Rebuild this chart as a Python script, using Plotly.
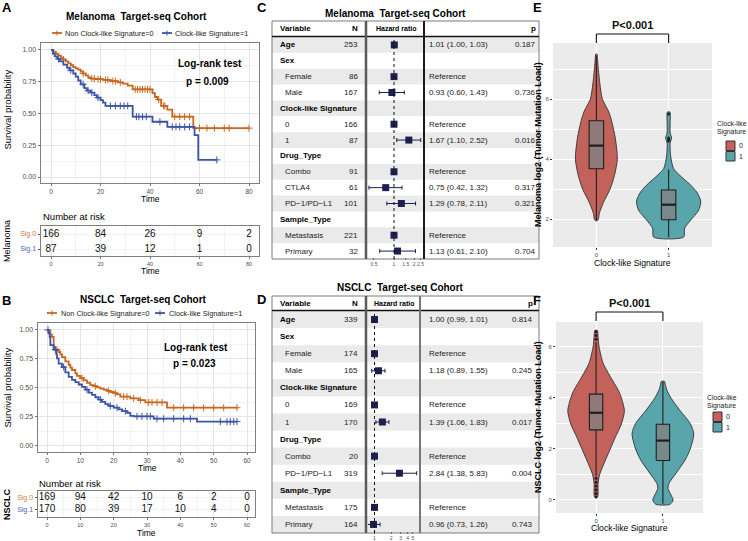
import plotly.graph_objects as go

W, H = 748, 541


def X(p):
    return p / W


def Y(p):
    return 1 - p / H


FONT = "Liberation Sans, Arial, Helvetica, sans-serif"
ORANGE = "#C8661F"
BLUE = "#3A55A5"
ORANGE_LBL = "#CB8040"
BLUE_LBL = "#4D67B3"
NAVY = "#1D1F4E"
RED_V = "#C3625B"
TEAL_V = "#58A5AC"
GRID = "#E6E6E6"
GRID_MINOR = "#F3F3F3"
FRAME = "#7F7F7F"
TICKC = "#4D4D4D"

# ======================= DATA =======================
# --- A: Melanoma Kaplan-Meier ---
mel_sig0_time = [0, 1, 2, 3, 4, 5, 6, 7, 8, 9, 10, 11, 12, 13, 14, 15, 16, 18, 21, 24, 27, 29, 31,
                 33, 41, 42, 43, 44.5, 47, 49, 57.5]
mel_sig0_surv = [1.0, 0.985, 0.97, 0.955, 0.94, 0.925, 0.91, 0.895, 0.88, 0.865, 0.855, 0.845, 0.83,
                 0.815, 0.80, 0.785, 0.775, 0.77, 0.765, 0.755, 0.745, 0.735, 0.72, 0.69, 0.66, 0.63,
                 0.61, 0.56, 0.53, 0.475, 0.385]
mel_sig0_end = 80
mel_sig0_censor = [5, 13, 16.5, 17.5, 19, 20, 22, 23, 25, 26, 28, 34, 35, 36, 37, 38, 39, 40, 43.5,
                   45.5, 46, 50, 52, 54, 56, 60, 63, 66, 70, 72, 80]
mel_sig1_time = [0, 0.8, 1.5, 2.5, 3.5, 5, 6.5, 7.5, 9, 10, 11, 12, 13.5, 14.5, 16, 17.5, 18.5, 20,
                 21, 22, 33, 41, 47, 58, 59.5]
mel_sig1_surv = [1.0, 0.97, 0.95, 0.93, 0.91, 0.885, 0.86, 0.84, 0.815, 0.79, 0.76, 0.73, 0.70, 0.68,
                 0.665, 0.645, 0.625, 0.605, 0.585, 0.56, 0.475, 0.435, 0.395, 0.33, 0.135]
mel_sig1_end = 67
mel_sig1_censor = [3, 8, 13, 15, 16.5, 19, 24, 26, 28, 29.5, 31, 34.5, 35.5, 37, 38.5, 44, 49,
                   50.5, 52, 54, 56, 67]
mel_risk_times = [0, 20, 40, 60, 80]
mel_risk_sig0 = [166, 84, 26, 9, 2]
mel_risk_sig1 = [87, 39, 12, 1, 0]
mel_logrank_p = "0.009"

# --- B: NSCLC Kaplan-Meier ---
nsclc_sig0_time = [0, 0.5, 1.0, 1.5, 2.0, 2.5, 3.5, 4.0, 4.5, 5.5, 6.5, 7.0, 7.5, 8.5, 9.0, 10, 11,
                   12, 13, 14, 15, 16, 17, 18, 19, 20, 21, 22, 25, 27.5, 29.5, 36]
nsclc_sig0_surv = [1.0, 0.985, 0.96, 0.94, 0.85, 0.83, 0.81, 0.79, 0.765, 0.73, 0.70, 0.675, 0.655,
                   0.625, 0.605, 0.585, 0.565, 0.545, 0.525, 0.515, 0.505, 0.495, 0.485, 0.475,
                   0.465, 0.455, 0.445, 0.425, 0.41, 0.395, 0.375, 0.33]
nsclc_sig0_end = 57
nsclc_sig0_censor = [3, 10.5, 14.5, 18.5, 20.5, 23, 24, 26, 28, 30.5, 31.5, 33, 34.5, 38, 41, 44,
                     47, 50, 53, 57]
nsclc_sig1_time = [0, 0.5, 0.8, 1.0, 2.0, 2.8, 3.0, 3.5, 4.5, 5.5, 6.5, 7.5, 8.5, 9.5, 10.5, 11.5,
                   12.5, 13.5, 14.5, 15.5, 16.5, 17.5, 18.5, 20, 21.5, 22.5, 24, 25, 26, 32, 45]
nsclc_sig1_surv = [1.0, 0.97, 0.94, 0.87, 0.83, 0.79, 0.755, 0.71, 0.68, 0.635, 0.595, 0.57, 0.55,
                   0.53, 0.51, 0.485, 0.46, 0.44, 0.42, 0.40, 0.38, 0.36, 0.345, 0.33, 0.315, 0.30,
                   0.285, 0.26, 0.255, 0.235, 0.21]
nsclc_sig1_end = 57
nsclc_sig1_censor = [0.3, 2.5, 5, 12, 16, 19, 21, 23.5, 27, 28.5, 30, 31, 33, 35, 38, 41, 43, 52,
                     54, 55, 56, 57]
nsclc_risk_times = [0, 10, 20, 30, 40, 50, 60]
nsclc_risk_sig0 = [169, 94, 42, 10, 6, 2, 0]
nsclc_risk_sig1 = [170, 80, 39, 17, 10, 4, 0]
nsclc_logrank_p = "0.023"

# --- C: Melanoma forest plot ---
c_vars = ["Age", "Sex", "Female", "Male", "Clock-like Signature", "0", "1", "Drug_Type", "Combo",
          "CTLA4", "PD\u22121/PD\u2212L1", "Sample_Type", "Metastasis", "Primary"]
c_level = [0, 0, 1, 1, 0, 1, 1, 0, 1, 1, 1, 0, 1, 1]
c_n = [253, None, 86, 167, None, 166, 87, None, 91, 61, 101, None, 221, 32]
c_hr = [1.01, None, 1, 0.93, None, 1, 1.67, None, 1, 0.75, 1.29, None, 1, 1.13]
c_lo = [1.00, None, None, 0.60, None, None, 1.10, None, None, 0.42, 0.78, None, None, 0.61]
c_hi = [1.03, None, None, 1.43, None, None, 2.52, None, None, 1.32, 2.11, None, None, 2.10]
c_p = [0.187, None, None, 0.736, None, None, 0.016, None, None, 0.317, 0.321, None, None, 0.704]
c_ticks = [0.5, 1, 1.5, 2, 2.5]

# --- D: NSCLC forest plot ---
d_vars = ["Age", "Sex", "Female", "Male", "Clock-like Signature", "0", "1", "Drug_Type", "Combo",
          "PD\u22121/PD\u2212L1", "Sample_Type", "Metastasis", "Primary"]
d_level = [0, 0, 1, 1, 0, 1, 1, 0, 1, 1, 0, 1, 1]
d_n = [339, None, 174, 165, None, 169, 170, None, 20, 319, None, 175, 164]
d_hr = [1.00, None, 1, 1.18, None, 1, 1.39, None, 1, 2.84, None, 1, 0.96]
d_lo = [0.99, None, None, 0.89, None, None, 1.06, None, None, 1.38, None, None, 0.73]
d_hi = [1.01, None, None, 1.55, None, None, 1.83, None, None, 5.83, None, None, 1.26]
d_p = [0.814, None, None, 0.245, None, None, 0.017, None, None, 0.004, None, None, 0.743]
d_ticks = [1, 2, 3, 4, 5]

# --- E: Melanoma violin (density half-widths in category units) ---
e0_y = [1.95, 2.0, 2.2, 2.55, 3.0, 3.45, 4.0, 4.67, 5.3, 5.6, 6.0, 6.5, 7.08, 7.3, 7.5]
e0_w = [0.014, 0.028, 0.042, 0.097, 0.19, 0.25, 0.29, 0.264, 0.208, 0.167, 0.083, 0.049, 0.024,
        0.017, 0.007]
e1_y = [1.4, 1.7, 1.97, 2.3, 2.6, 2.9, 3.13, 3.4, 3.68, 4.1, 4.53, 4.7, 4.87, 5.2, 5.57]
e1_w = [0.208, 0.222, 0.306, 0.417, 0.444, 0.389, 0.306, 0.181, 0.069, 0.028, 0.021, 0.042, 0.021,
        0.021, 0.017]
e_q1 = [3.68, 1.98]
e_med = [4.45, 2.48]
e_q3 = [5.28, 2.97]
e_lo = [1.95, 1.4]
e_hi = [7.45, 3.65]
e_out = [[], [4.6, 4.65, 4.7, 5.5]]

# --- F: NSCLC violin ---
f0_y = [0.13, 0.65, 1.0, 1.45, 2.0, 2.46, 2.98, 3.5, 4.0, 4.3, 4.84, 5.36, 6.0, 6.4, 6.65]
f0_w = [0.023, 0.03, 0.053, 0.121, 0.212, 0.288, 0.379, 0.424, 0.379, 0.333, 0.212, 0.106, 0.045,
        0.03, 0.018]
f1_y = [-0.17, 0.0, 0.2, 0.46, 0.65, 1.05, 1.57, 2.0, 2.6, 3.0, 3.5, 4.0, 4.3, 4.5, 4.65]
f1_w = [0.106, 0.152, 0.121, 0.076, 0.091, 0.197, 0.333, 0.409, 0.462, 0.409, 0.258, 0.121, 0.061,
        0.038, 0.023]
f_q1 = [2.75, 1.55]
f_med = [3.42, 2.33]
f_q3 = [4.15, 2.97]
f_lo = [0.95, -0.15]
f_hi = [6.2, 4.65]
f_out = [[0.12, 0.25, 0.4, 0.55, 0.7, 0.85, 6.3, 6.45, 6.6], []]

categories = ["0", "1"]
sig_p_text = "P<0.001"

# ======================= FIGURE =======================
fig = go.Figure()
ann, shapes = [], []


def txt(x, y, s, size=8, bold=False, color="#000000", xa="center", ya="middle", angle=0):
    ann.append(dict(x=X(x), y=Y(y), xref="paper", yref="paper",
                    text=("<b>%s</b>" % s) if bold else s, showarrow=False,
                    font=dict(family=FONT, size=size, color=color),
                    xanchor=xa, yanchor=ya, textangle=angle, borderpad=0))


def pline(x0, y0, x1, y1, color="#000000", width=1, dash=None, layer="above"):
    ln = dict(color=color, width=width)
    if dash:
        ln["dash"] = dash
    shapes.append(dict(type="line", xref="paper", yref="paper", x0=X(x0), y0=Y(y0),
                       x1=X(x1), y1=Y(y1), line=ln, layer=layer))


def prect(x0, y0, x1, y1, fill="rgba(0,0,0,0)", color="rgba(0,0,0,0)", width=0, layer="below"):
    shapes.append(dict(type="rect", xref="paper", yref="paper", x0=X(x0), y0=Y(y1), x1=X(x1),
                       y1=Y(y0), fillcolor=fill, line=dict(color=color, width=width), layer=layer))


def surv_at(times, surv, t):
    s = surv[0]
    for ti, si in zip(times, surv):
        if ti <= t:
            s = si
    return s


# ---------- KM panels ----------
km_panels = [
    dict(xa="x", ya="y", rxa="x2", rya="y2",
         curves=[(mel_sig0_time, mel_sig0_surv, mel_sig0_end, mel_sig0_censor, ORANGE),
                 (mel_sig1_time, mel_sig1_surv, mel_sig1_end, mel_sig1_censor, BLUE)],
         risk_t=mel_risk_times, risk=[mel_risk_sig0, mel_risk_sig1]),
    dict(xa="x3", ya="y3", rxa="x4", rya="y4",
         curves=[(nsclc_sig0_time, nsclc_sig0_surv, nsclc_sig0_end, nsclc_sig0_censor, ORANGE),
                 (nsclc_sig1_time, nsclc_sig1_surv, nsclc_sig1_end, nsclc_sig1_censor, BLUE)],
         risk_t=nsclc_risk_times, risk=[nsclc_risk_sig0, nsclc_risk_sig1]),
]
for k in km_panels:
    for t, s, end, cens, col in k["curves"]:
        fig.add_trace(go.Scatter(x=t + [end], y=s + [s[-1]], mode="lines",
                                 line=dict(color=col, width=1.8, shape="hv"),
                                 xaxis=k["xa"], yaxis=k["ya"], showlegend=False, hoverinfo="skip"))
        fig.add_trace(go.Scatter(x=cens, y=[surv_at(t, s, c) for c in cens], mode="markers",
                                 marker=dict(symbol="cross-thin", size=5, color=col,
                                             line=dict(width=1, color=col)),
                                 xaxis=k["xa"], yaxis=k["ya"], showlegend=False, hoverinfo="skip"))
    for row, vals in zip([1, 0], k["risk"]):
        fig.add_trace(go.Scatter(x=k["risk_t"], y=[row] * len(vals), mode="text",
                                 text=[str(v) for v in vals],
                                 textfont=dict(family=FONT, size=10, color="#111111"),
                                 xaxis=k["rxa"], yaxis=k["rya"], showlegend=False, hoverinfo="skip"))


def km_xaxis(dom, rng, dtick, anchor, fsize):
    return dict(domain=dom, range=rng, anchor=anchor, tick0=0, dtick=dtick, tickangle=0,
                showgrid=True, gridcolor=GRID, gridwidth=0.8,
                minor=dict(dtick=dtick / 2, showgrid=True, gridcolor=GRID_MINOR, gridwidth=0.5),
                zeroline=False, showline=True, mirror=True, linecolor=FRAME, linewidth=1,
                ticks="outside", ticklen=2, tickcolor="#777777", tickwidth=0.8,
                tickfont=dict(family=FONT, size=fsize, color=TICKC))


def km_yaxis(dom, rng, anchor):
    return dict(domain=dom, range=rng, anchor=anchor, tick0=0, dtick=0.25, tickformat=".2f",
                showgrid=True, gridcolor=GRID, gridwidth=0.8,
                minor=dict(dtick=0.125, showgrid=True, gridcolor=GRID_MINOR, gridwidth=0.5),
                zeroline=False, showline=True, mirror=True, linecolor=FRAME, linewidth=1,
                ticks="outside", ticklen=2.5, tickcolor="#777777", tickwidth=0.8,
                tickfont=dict(family=FONT, size=7, color=TICKC))


def risk_yaxis(dom, rng, anchor):
    return dict(domain=dom, range=rng, anchor=anchor, tickmode="array", tickvals=[0, 1],
                ticktext=["<span style='color:%s'>Sig.1</span>" % BLUE_LBL,
                          "<span style='color:%s'>Sig.0</span>" % ORANGE_LBL],
                showgrid=True, gridcolor=GRID_MINOR, gridwidth=0.8, zeroline=False,
                showline=True, mirror=True, linecolor=FRAME, linewidth=1,
                ticks="outside", ticklen=2.5, tickcolor="#555555", tickwidth=0.8,
                tickfont=dict(family=FONT, size=7))


layout_axes = {}
layout_axes["xaxis"] = km_xaxis([X(41), X(259)], [-4.04, 84.04], 20, "y", 6.5)
layout_axes["yaxis"] = km_yaxis([Y(183), Y(43)], [-0.047, 1.055], "x")
layout_axes["xaxis2"] = km_xaxis([X(41), X(259)], [-4.04, 84.04], 20, "y2", 5.5)
layout_axes["yaxis2"] = risk_yaxis([Y(256), Y(226)], [-0.467, 1.533], "x2")
layout_axes["xaxis3"] = km_xaxis([X(38), X(255)], [-2.7, 62.4], 10, "y3", 6.5)
layout_axes["yaxis3"] = km_yaxis([Y(452), Y(323)], [-0.052, 1.06], "x3")
layout_axes["xaxis4"] = km_xaxis([X(38), X(255)], [-2.7, 62.4], 10, "y4", 5.5)
layout_axes["yaxis4"] = risk_yaxis([Y(517), Y(491)], [-0.57, 1.545], "x4")

# KM text
txt(7, 8, "A", 13, True)
txt(6, 300, "B", 13, True)
txt(136.5, 16, "Melanoma  Target-seq Cohort", 10, True)
txt(143.5, 299, "NSCLC  Target-seq Cohort", 10, True)
for (lx, ly, tx, col, label) in [(52, 33, 64, ORANGE, "Non Clock-like Signature=0"),
                                 (162, 33, 174, BLUE, "Clock-like Signature=1"),
                                 (47, 313, 60, ORANGE, "Non Clock-like Signature=0"),
                                 (155, 313, 168, BLUE, "Clock-like Signature=1")]:
    pline(lx, ly, lx + 10, ly, col, 1.8)
    pline(lx + 5, ly - 2.5, lx + 5, ly + 2.5, col, 1)
    txt(tx, ly, label, 7.3, False, "#222222", xa="left")
txt(177, 63, "Log-rank test", 10, True, xa="left")
txt(185, 81, "p = " + mel_logrank_p, 10, True, xa="left")
txt(163, 347, "Log-rank test", 10, True, xa="left")
txt(172, 363, "p = " + nsclc_logrank_p, 10, True, xa="left")
txt(6.5, 110, "Survival probability", 9.5, angle=-90)
txt(6.5, 388, "Survival probability", 9.5, angle=-90)
txt(150, 199, "Time", 8.5)
txt(147, 468, "Time", 8.5)
txt(42, 217, "Number at risk", 9.5, xa="left")
txt(38, 483, "Number at risk", 9.5, xa="left")
txt(150, 271, "Time", 8.5)
txt(146, 533, "Time", 8.5)
txt(7, 241, "Melanoma", 9, angle=-90)
txt(7, 504, "NSCLC", 9, True, angle=-90)

# ---------- Forest plots ----------
forests = [
    dict(xa="x5", ya="y5", vars=c_vars, level=c_level, n=c_n, hr=c_hr, lo=c_lo, hi=c_hi, p=c_p,
         ticks=c_ticks, box=(272, 21, 539, 259), head_y=28.5, head_line=36.5, body=(37, 259),
         hr_col=(368, 424), hr_range=[-0.391, 0.451], rcol="#1A1A1A", p_right=537, tick_pos=257,
         title="Melanoma  Target-seq Cohort", title_xy=(395, 14), letter="C", letter_xy=(262, 8)),
    dict(xa="x6", ya="y6", vars=d_vars, level=d_level, n=d_n, hr=d_hr, lo=d_lo, hi=d_hi, p=d_p,
         ticks=d_ticks, box=(272, 296, 539, 533), head_y=303, head_line=310.5, body=(311, 533),
         hr_col=(368, 420), hr_range=[-0.118, 0.827], rcol="#777777", p_right=534, tick_pos=531,
         title="NSCLC  Target-seq Cohort", title_xy=(400, 287), letter="D", letter_xy=(261, 299.5)),
]
for fi, f in enumerate(forests):
    nrow = len(f["vars"])
    bt, bb = f["body"]
    rh = (bb - bt) / nrow
    bx0, by0, bx1, by1 = f["box"]
    for i in range(nrow):
        if i % 2 == 0:
            prect(bx0, bt + i * rh, bx1, bt + (i + 1) * rh, fill="#EAEAEA")
    prect(bx0, by0, bx1, by1, color="#7A7A7A", width=1, layer="above")
    pline(bx0, f["head_line"], bx1, f["head_line"], "#111111", 1.6)
    pline(366, by0, 366, by1, "#5A5A5A", 2.5)
    pline(f["hr_col"][1], by0, f["hr_col"][1], by1, f["rcol"], 2)
    shapes.append(dict(type="line", xref=f["xa"], yref="paper", x0=1, x1=1, y0=Y(bb), y1=Y(f["head_line"] + 1),
                       line=dict(color="#111111", width=1, dash="3px,3px"), layer="above"))
    # header
    txt(279, f["head_y"], "Variable", 8, True, xa="left")
    txt(359, f["head_y"], "N", 8, True, xa="right")
    txt((f["hr_col"][0] + f["hr_col"][1]) / 2, f["head_y"], "Hazard ratio", 7, True)
    txt(f["p_right"], f["head_y"], "p", 8, True, xa="right")
    txt(f["letter_xy"][0], f["letter_xy"][1], f["letter"], 13, True)
    txt(f["title_xy"][0], f["title_xy"][1], f["title"], 10, True)
    xs, ys, ep, em = [], [], [], []
    for i in range(nrow):
        yc = bt + (i + 0.5) * rh
        if f["level"][i] == 0:
            txt(279, yc, f["vars"][i], 8, True, xa="left")
        else:
            txt(284, yc, f["vars"][i], 8, False, "#222222", xa="left")
        if f["n"][i] is not None:
            txt(359, yc, str(f["n"][i]), 8, False, "#222222", xa="right")
        if f["hr"][i] is not None:
            xs.append(f["hr"][i])
            ys.append(i)
            if f["lo"][i] is None:
                txt(428, yc, "Reference", 8, False, "#222222", xa="left")
                ep.append(0)
                em.append(0)
            else:
                txt(428, yc, "%.2f (%.2f, %.2f)" % (f["hr"][i], f["lo"][i], f["hi"][i]), 8, False,
                    "#222222", xa="left")
                txt(f["p_right"], yc, "%.3f" % f["p"][i], 8, False, "#222222", xa="right")
                ep.append(f["hi"][i] - f["hr"][i])
                em.append(f["hr"][i] - f["lo"][i])
    fig.add_trace(go.Scatter(x=xs, y=ys, mode="markers",
                             marker=dict(symbol="square", size=7, color=NAVY),
                             error_x=dict(type="data", symmetric=False, array=ep, arrayminus=em,
                                          color=NAVY, thickness=1, width=2),
                             xaxis=f["xa"], yaxis=f["ya"], showlegend=False, hoverinfo="skip"))
    n = f["xa"][1:]
    layout_axes["xaxis" + n] = dict(type="log", domain=[X(f["hr_col"][0]), X(f["hr_col"][1])],
                                    range=f["hr_range"], anchor="free", position=Y(f["tick_pos"]),
                                    tickmode="array", tickangle=0,
                                    tickvals=f["ticks"], ticktext=[("%g" % v) for v in f["ticks"]],
                                    showgrid=False, zeroline=False, showline=False,
                                    ticks="outside", ticklen=2, tickcolor="#555555", tickwidth=0.8,
                                    tickfont=dict(family=FONT, size=5, color="#555555"))
    layout_axes["yaxis" + n] = dict(domain=[Y(bb), Y(bt)], range=[nrow - 0.5, -0.5],
                                    anchor=f["xa"], visible=False)

# ---------- Violin panels ----------
violins = [
    dict(xa="x7", ya="y7", prof=[(e0_y, e0_w), (e1_y, e1_w)], q1=e_q1, med=e_med, q3=e_q3,
         lo=e_lo, hi=e_hi, out=e_out, dom=(553, 712, 43, 247), yr=[1.07, 7.87],
         br=(34, 43), p_y=25, xt_y=263, yt=("Melanoma log2 (Tumor Mutation Load)", 538, 145),
         leg=(716, 123, 726, 141), letter=("E", 537, 8)),
    dict(xa="x8", ya="y8", prof=[(f0_y, f0_w), (f1_y, f1_w)], q1=f_q1, med=f_med, q3=f_q3,
         lo=f_lo, hi=f_hi, out=f_out, dom=(556, 703, 322, 513), yr=[-0.51, 6.98],
         br=(312, 321), p_y=303, xt_y=528, yt=("NSCLC log2 (Tumor Mutation Load)", 538, 417),
         leg=(706, 397, 713, 412), letter=("F", 537, 300)),
]
fills = [RED_V, TEAL_V]
BOX_HALF = 0.1
for v in violins:
    for ci, (yy, ww) in enumerate(v["prof"]):
        xs = [ci - w for w in ww] + [ci + w for w in reversed(ww)] + [ci - ww[0]]
        ys = list(yy) + list(reversed(yy)) + [yy[0]]
        fig.add_trace(go.Scatter(x=xs, y=ys, mode="lines", fill="toself", fillcolor=fills[ci],
                                 line=dict(color="#333333", width=0.9, shape="spline", smoothing=0.7),
                                 xaxis=v["xa"], yaxis=v["ya"], showlegend=False, hoverinfo="skip"))
    for ci in range(2):
        # whiskers
        fig.add_trace(go.Scatter(x=[ci, ci, None, ci, ci],
                                 y=[v["lo"][ci], v["q1"][ci], None, v["q3"][ci], v["hi"][ci]],
                                 mode="lines", line=dict(color="#1E1E1E", width=1.1),
                                 xaxis=v["xa"], yaxis=v["ya"], showlegend=False, hoverinfo="skip"))
        # box
        fig.add_trace(go.Scatter(x=[ci - BOX_HALF, ci + BOX_HALF, ci + BOX_HALF, ci - BOX_HALF, ci - BOX_HALF],
                                 y=[v["q1"][ci], v["q1"][ci], v["q3"][ci], v["q3"][ci], v["q1"][ci]],
                                 mode="lines", fill="toself", fillcolor="rgba(130,130,130,0.78)",
                                 line=dict(color="#1E1E1E", width=1.1),
                                 xaxis=v["xa"], yaxis=v["ya"], showlegend=False, hoverinfo="skip"))
        # median
        fig.add_trace(go.Scatter(x=[ci - BOX_HALF, ci + BOX_HALF], y=[v["med"][ci]] * 2, mode="lines",
                                 line=dict(color="#1E1E1E", width=2.2),
                                 xaxis=v["xa"], yaxis=v["ya"], showlegend=False, hoverinfo="skip"))
    ox, oy = [], []
    for ci, pts in enumerate(v["out"]):
        ox += [ci] * len(pts)
        oy += pts
    fig.add_trace(go.Scatter(x=ox, y=oy, mode="markers", marker=dict(size=3, color="#1E1E1E"),
                             xaxis=v["xa"], yaxis=v["ya"], showlegend=False, hoverinfo="skip"))
    n = v["xa"][1:]
    x0, x1, y0, y1 = v["dom"]
    layout_axes["xaxis" + n] = dict(domain=[X(x0), X(x1)], range=[-0.6, 1.6], anchor=v["ya"],
                                    tickmode="array", tickvals=[0, 1], ticktext=categories, tickangle=0,
                                    showgrid=True, gridcolor="white", gridwidth=1.1, zeroline=False,
                                    showline=False, ticks="outside", ticklen=2, tickcolor="#333333",
                                    tickwidth=0.8, tickfont=dict(family=FONT, size=6, color=TICKC))
    layout_axes["yaxis" + n] = dict(domain=[Y(y1), Y(y0)], range=v["yr"], anchor=v["xa"],
                                    tick0=0, dtick=2, showgrid=True, gridcolor="white", gridwidth=1.1,
                                    minor=dict(dtick=1, showgrid=True, gridcolor="white", gridwidth=0.5),
                                    zeroline=False, showline=False, ticks="outside", ticklen=2,
                                    tickcolor="#333333", tickwidth=0.8,
                                    tickfont=dict(family=FONT, size=6, color=TICKC))
    shapes.append(dict(type="rect", xref=v["xa"] + " domain", yref=v["ya"] + " domain", x0=0, x1=1,
                       y0=0, y1=1, fillcolor="#EBEBEB", line=dict(width=0), layer="below"))
    bt_, bb_ = v["br"]
    for (a0, b0, a1, b1) in [(0, bb_, 0, bt_), (0, bt_, 1, bt_), (1, bt_, 1, bb_)]:
        shapes.append(dict(type="line", xref=v["xa"], yref="paper", x0=a0, x1=a1, y0=Y(b0), y1=Y(b1),
                           line=dict(color="#111111", width=1.1)))
    ann.append(dict(x=0.5, y=Y(v["p_y"]), xref=v["xa"], yref="paper", text="<b>%s</b>" % sig_p_text,
                    showarrow=False, font=dict(family=FONT, size=11, color="#111111"),
                    xanchor="center", yanchor="middle"))
    txt((x0 + x1) / 2, v["xt_y"], "Clock-like Signature", 8.6)
    txt(v["yt"][1], v["yt"][2], v["yt"][0], 9, True, angle=-90)
    txt(v["letter"][1], v["letter"][2], v["letter"][0], 13, True)
    lx, ly, kx, ky = v["leg"]
    txt(lx, ly, "Clock-like", 6.8, False, "#222222", xa="left")
    txt(lx, ly + 9, "Signature", 6.8, False, "#222222", xa="left")
    for ci in range(2):
        prect(kx, ky + ci * 10.5, kx + 9, ky + ci * 10.5 + 9.5, fill=fills[ci], color="#333333",
              width=1, layer="above")
        txt(kx + 12, ky + ci * 10.5 + 4.75, categories[ci], 7, False, "#222222", xa="left")

fig.update_layout(width=W, height=H, margin=dict(l=0, r=0, t=0, b=0),
                  paper_bgcolor="white", plot_bgcolor="rgba(0,0,0,0)", showlegend=False,
                  annotations=ann, shapes=shapes, font=dict(family=FONT), **layout_axes)
fig.write_html("out.html", config={"displayModeBar": False},
               post_script="document.body.style.margin='0px';document.body.style.overflow='hidden';")
